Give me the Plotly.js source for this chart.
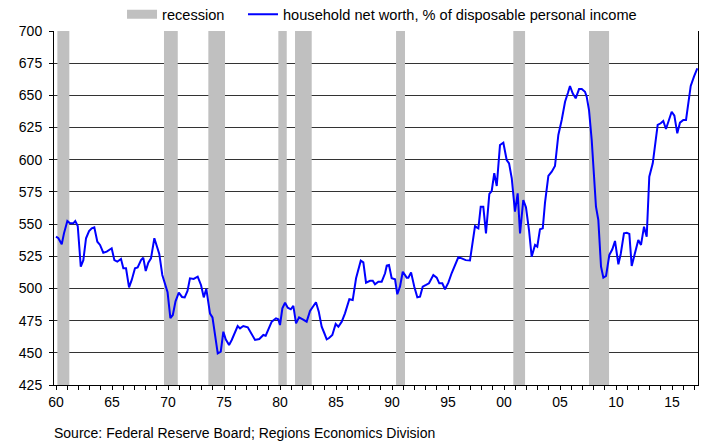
<!DOCTYPE html>
<html>
<head>
<meta charset="utf-8">
<script src="https://cdn.plot.ly/plotly-3.0.1.min.js"></script>
<style>html,body{margin:0;padding:0;background:#fff;}#chart{width:707px;height:442px;}</style>
</head>
<body>
<div id="chart"></div>
<script>
// Quarterly household net worth, % of disposable personal income
var years = [1960.00,1960.21,1960.51,1960.71,1961.01,1961.25,1961.54,1961.72,1961.94,1962.21,
1962.44,1962.68,1962.95,1963.19,1963.42,1963.69,1963.93,1964.22,1964.53,1964.97,
1965.21,1965.47,1965.80,1966.01,1966.25,1966.52,1966.76,1967.05,1967.29,1967.59,
1967.79,1968.01,1968.24,1968.48,1968.78,1968.99,1969.22,1969.49,1969.79,1969.96,
1970.21,1970.43,1970.67,1970.96,1971.25,1971.49,1971.74,1971.96,1972.29,1972.65,
1972.95,1973.19,1973.42,1973.60,1973.75,1973.97,1974.20,1974.44,1974.71,1974.94,
1975.15,1975.45,1975.69,1975.92,1976.22,1976.43,1976.72,1977.12,1977.41,1977.77,
1978.15,1978.51,1978.72,1978.96,1979.26,1979.64,1979.85,1980.00,1980.21,1980.45,
1980.69,1980.96,1981.19,1981.43,1981.70,1982.03,1982.38,1982.68,1982.97,1983.21,
1983.46,1983.72,1983.96,1984.17,1984.38,1984.67,1984.97,1985.21,1985.51,1985.80,
1986.19,1986.49,1986.79,1987.21,1987.44,1987.68,1988.04,1988.28,1988.48,1988.78,
1989.08,1989.38,1989.53,1989.73,1989.97,1990.27,1990.47,1990.71,1990.96,1991.31,
1991.46,1991.70,1991.99,1992.26,1992.50,1992.74,1993.04,1993.30,1993.69,1993.99,
1994.22,1994.49,1994.73,1995.03,1995.33,1995.63,1995.92,1996.22,1996.58,1996.96,
1997.26,1997.41,1997.56,1997.71,1997.92,1998.15,1998.39,1998.69,1998.90,1999.13,
1999.35,1999.64,1999.94,2000.24,2000.45,2000.69,2000.98,2001.22,2001.43,2001.72,
2001.96,2002.23,2002.47,2002.77,2002.97,2003.21,2003.46,2003.66,2003.96,2004.26,
2004.55,2004.85,2005.15,2005.45,2005.71,2005.89,2006.13,2006.40,2006.70,2006.94,
2007.23,2007.38,2007.59,2007.83,2008.04,2008.21,2008.42,2008.66,2008.87,2009.11,
2009.40,2009.67,2009.91,2010.21,2010.42,2010.71,2010.96,2011.19,2011.40,2011.63,
2011.99,2012.23,2012.50,2012.74,2012.97,2013.28,2013.48,2013.72,2013.99,2014.22,
2014.46,2014.73,2014.97,2015.21,2015.47,2015.71,2016.01,2016.25,2016.46,2016.67,
2016.96,2017.26];

var netWorth = [540.2,539,534.3,542.8,552.4,550.6,550.6,552.4,548.5,517,
522,539,544.6,546.7,547.5,536.3,533.8,527.8,528.6,531.2,
522,520.8,523,515.7,515.7,500.9,506.6,515.7,516.4,522,
523.9,513.6,520,523.4,539,533,526.8,510.5,502.7,497,
477,479.4,490,496.8,493.4,493.1,498,507.9,507.4,509.1,
502.5,493.1,499.7,487.2,480.5,477.5,465.2,449.6,450.9,466.4,
460.5,456.1,460,464.6,470.8,469,470.8,469.8,465.2,460,
460.7,463.9,463.3,467.7,474.2,476.8,476,471.6,484.6,488.9,
485,483.8,486.4,472.9,477.6,476,474.2,482.5,486.6,489.3,
482,470.3,465.2,460.5,461.5,463.9,472.4,470.3,474.2,480.7,
491.6,491,507.9,521.6,520.3,504.5,506,506,503.2,505.3,
505.3,511.8,517.7,518.2,507.9,507.1,495.5,501.4,513,508.4,
508.4,512.5,501.4,493.1,493.6,501.4,502.7,504,510.5,508.4,
504,504,499.4,504.5,512,519,524.2,523.4,522,521.8,
539,548.5,547.5,546.7,563.5,563.5,542.8,573.4,575.7,589.5,
579.6,611.4,613.2,599.8,597.2,585.6,559.6,573.9,542.8,568.7,
563,545.4,524.7,533.8,532.5,546,546.7,566.6,587.4,590.7,
595.1,619.2,630.9,645,652,657.3,651.6,647.7,654.9,654.9,
652.8,649,638.6,615.3,586.8,563.5,553.2,517,508.4,509.7,
526,530.4,536.9,518.8,526.8,542.8,543.3,542.3,517.5,526,
537.6,533.8,548,540.2,586.8,597.2,612.8,627,628.3,630.1,
623.9,630.9,637.3,634.2,620.5,628.8,630.9,630.9,642.5,657.3,
664.5,671];

// Recession periods (start / end, decimal years)
var recStart = [1960.12, 1969.64, 1973.60, 1979.85, 1981.34, 1990.36, 2000.83, 2007.59];
var recEnd   = [1961.19, 1970.87, 1975.09, 1980.60, 1982.83, 1991.16, 2001.88, 2009.38];

// Axis ticks
var xTickVals = [1960, 1965, 1970, 1975, 1980, 1985, 1990, 1995, 2000, 2005, 2010, 2015];
var xTickText = ['60', '65', '70', '75', '80', '85', '90', '95', '00', '05', '10', '15'];
var yTickVals = [425, 450, 475, 500, 525, 550, 575, 600, 625, 650, 675, 700];

var Y_MIN = 425, Y_MAX = 700;
var FONT = 'Liberation Sans, Arial, sans-serif';

var recMid = recStart.map(function (s, i) { return (s + recEnd[i]) / 2; });
var recWidth = recStart.map(function (s, i) { return recEnd[i] - s; });
var recTop = recStart.map(function () { return Y_MAX - Y_MIN; });

var traces = [
  {
    type: 'bar', x: recMid, y: recTop, base: Y_MIN, width: recWidth,
    marker: { color: '#C0C0C0', line: { width: 0 } },
    showlegend: false, hoverinfo: 'skip'
  },
  {
    type: 'scatter', mode: 'lines', x: [null], y: [null], name: 'recession',
    line: { color: '#C0C0C0', width: 9 }, hoverinfo: 'skip', legend: 'legend'
  },
  {
    type: 'scatter', mode: 'lines', x: years, y: netWorth,
    name: 'household net worth, % of disposable personal income',
    line: { color: '#0000FF', width: 2 }, legend: 'legend2'
  }
];

var legendBase = {
  orientation: 'h', xref: 'container', yref: 'container',
  xanchor: 'left', y: 0.968, yanchor: 'middle',
  font: { family: FONT, size: 14.6, color: '#000' },
  bgcolor: 'rgba(0,0,0,0)'
};

var layout = {
  width: 707, height: 442,
  margin: { l: 54, r: 9, t: 31, b: 57, pad: 0 },
  paper_bgcolor: '#ffffff', plot_bgcolor: '#ffffff',
  font: { family: FONT, size: 14, color: '#000' },
  showlegend: true,
  legend: Object.assign({}, legendBase, { x: 0.1726 }),
  legend2: Object.assign({}, legendBase, { x: 0.3437 }),
  xaxis: {
    range: [1959.82, 2017.32], tickmode: 'array', tickvals: xTickVals, ticktext: xTickText,
    ticks: 'outside', ticklen: 4, tickcolor: '#000', tickwidth: 1,
    minor: { tickmode: 'linear', tick0: 1960, dtick: 1, ticks: 'outside', ticklen: 4, tickcolor: '#000', tickwidth: 1, showgrid: false },
    showgrid: false, zeroline: false, showline: true, linecolor: '#000', linewidth: 1,
    tickfont: { family: FONT, size: 14, color: '#000' }, fixedrange: true
  },
  yaxis: {
    range: [Y_MIN, Y_MAX], tickmode: 'array', tickvals: yTickVals,
    ticks: 'outside', ticklen: 4, tickcolor: '#000', tickwidth: 1, ticklabelstandoff: 4,
    showgrid: true, gridcolor: '#333333', gridwidth: 1,
    zeroline: false, showline: true, mirror: true, linecolor: '#000', linewidth: 1,
    tickfont: { family: FONT, size: 14, color: '#000' }, fixedrange: true
  },
  annotations: [{
    text: 'Source: Federal Reserve Board; Regions Economics Division',
    xref: 'paper', yref: 'paper', x: -0.003, y: -0.1356,
    xanchor: 'left', yanchor: 'middle', showarrow: false,
    font: { family: FONT, size: 14, color: '#000' }
  }]
};

Plotly.newPlot('chart', traces, layout, { displayModeBar: false, staticPlot: true });
</script>
</body>
</html>
